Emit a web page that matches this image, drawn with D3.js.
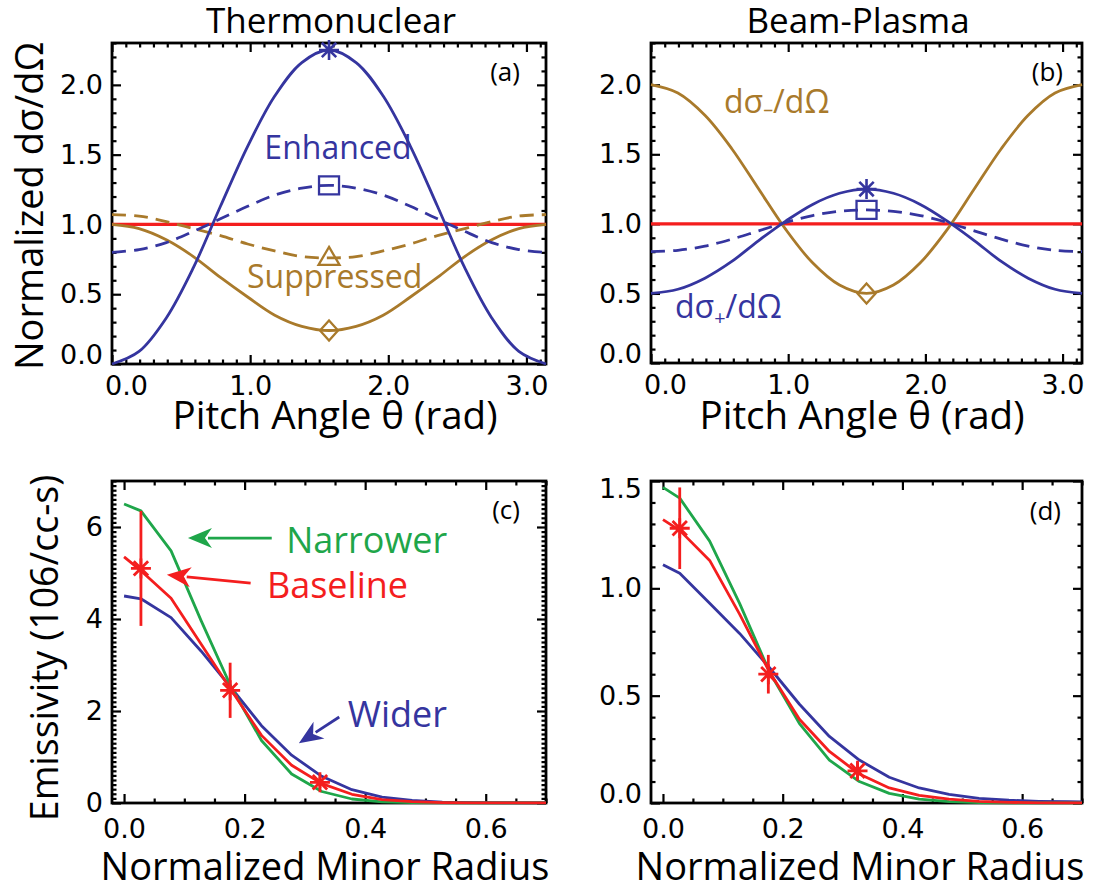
<!DOCTYPE html>
<html>
<head>
<meta charset="utf-8">
<script src="https://cdn.jsdelivr.net/npm/d3@7"></script>
<style>
  html, body { margin: 0; padding: 0; background: #ffffff; }
  svg { display: block; }
</style>
</head>
<body>
<script>
// ---------------------------------------------------------------
// Angular distributions (panels a, b)
// ---------------------------------------------------------------
const pitchAngle = [0.000, 0.196, 0.393, 0.589, 0.785, 0.982, 1.178, 1.374, 1.571,
                    1.767, 1.963, 2.160, 2.356, 2.553, 2.749, 2.945, 3.142];

// Thermonuclear: enhanced / suppressed anisotropies
const tnEnhanced      = [0.00, 0.09, 0.33, 0.69, 1.13, 1.56, 1.92, 2.16, 2.25,
                         2.16, 1.92, 1.56, 1.13, 0.69, 0.33, 0.09, 0.00];
const tnEnhancedWeak  = [0.80, 0.82, 0.87, 0.95, 1.04, 1.13, 1.21, 1.26, 1.28,
                         1.26, 1.21, 1.13, 1.04, 0.95, 0.87, 0.82, 0.80];
const tnSuppressedWeak= [1.07, 1.06, 1.02, 0.97, 0.92, 0.86, 0.81, 0.77, 0.76,
                         0.77, 0.81, 0.86, 0.92, 0.97, 1.02, 1.06, 1.07];
const tnSuppressed    = [1.00, 0.97, 0.89, 0.77, 0.62, 0.48, 0.35, 0.27, 0.24,
                         0.27, 0.35, 0.48, 0.62, 0.77, 0.89, 0.97, 1.00];

// Beam-plasma: dσ-/dΩ and dσ+/dΩ
const bpMinus         = [2.00, 1.94, 1.78, 1.54, 1.25, 0.96, 0.72, 0.56, 0.50,
                         0.56, 0.72, 0.96, 1.25, 1.54, 1.78, 1.94, 2.00];
const bpPlus          = [0.50, 0.53, 0.61, 0.73, 0.88, 1.02, 1.14, 1.22, 1.25,
                         1.22, 1.14, 1.02, 0.88, 0.73, 0.61, 0.53, 0.50];
const bpPlusWeak      = [0.80, 0.81, 0.84, 0.89, 0.95, 1.01, 1.06, 1.09, 1.10,
                         1.09, 1.06, 1.01, 0.95, 0.89, 0.84, 0.81, 0.80];

// Isotropic reference
const isoAngle = [0.000, 3.142];
const isoValue = [1.0, 1.0];

// Symbols at θ = π/2
const symbolAngle = 1.571;
const tnSymbolValues = [2.25, 1.28, 0.76, 0.24];
const tnSymbolShapes = ["asterisk", "square", "triangle", "diamond"];
const bpSymbolValues = [1.25, 1.10, 0.50];
const bpSymbolShapes = ["asterisk", "square", "diamond"];

// ---------------------------------------------------------------
// Emissivity profiles (panels c, d)
// ---------------------------------------------------------------
const minorRadius = [0.000, 0.028, 0.078, 0.128, 0.178, 0.228, 0.278, 0.328,
                     0.378, 0.428, 0.478, 0.528, 0.578, 0.628, 0.678, 0.700];

const tnNarrower = [6.50, 6.35, 5.48, 3.96, 2.51, 1.36, 0.63, 0.25, 0.087, 0.026, 0.007, 0.002, 0, 0, 0, 0];
const tnBaseline = [5.35, 5.05, 4.45, 3.45, 2.45, 1.47, 0.82, 0.42, 0.19, 0.075, 0.028, 0.009, 0.003, 0.001, 0, 0];
const tnWider    = [4.50, 4.44, 4.03, 3.30, 2.50, 1.68, 1.04, 0.58, 0.29, 0.13, 0.055, 0.020, 0.007, 0.002, 0, 0];

const bpNarrower = [1.47, 1.42, 1.22, 0.93, 0.61, 0.37, 0.20, 0.10, 0.045, 0.018, 0.006, 0.002, 0, 0, 0, 0];
const bpBaseline = [1.32, 1.27, 1.13, 0.88, 0.61, 0.39, 0.24, 0.135, 0.070, 0.036, 0.018, 0.008, 0.003, 0.001, 0, 0];
const bpWider    = [1.11, 1.07, 0.93, 0.79, 0.63, 0.46, 0.31, 0.20, 0.12, 0.070, 0.040, 0.022, 0.013, 0.008, 0.006, 0.005];

// Measured emissivity with error bars
const measRadius = [0.028, 0.176, 0.325];
const tnMeasured = [5.10, 2.45, 0.45];
const tnMeasErr  = [1.25, 0.60, 0.13];
const bpMeasured = [1.28, 0.60, 0.15];
const bpMeasErr  = [0.19, 0.09, 0.04];

// Tick labels
const angleTicks = [0, 1, 2, 3];
const dsigmaTicks = [0, 0.5, 1.0, 1.5, 2.0];
const radiusTicks = [0, 0.2, 0.4, 0.6];
const tnEmisTicks = [0, 2, 4, 6];
const bpEmisTicks = [0, 0.5, 1.0, 1.5];

// ---------------------------------------------------------------
const C = { blue: "#35359f", brown: "#a97a2b", red: "#f41e1e", green: "#1fa64a", black: "#000" };
const tickFont = "'DejaVu Sans', sans-serif";
const textFont = "'Open Sans', sans-serif";

const svg = d3.select("body").append("svg")
  .attr("width", 1093).attr("height", 892)
  .attr("viewBox", "0 0 1093 892");

let clipCount = 0;

function minorsBetween(lo, hi, step, majors) {
  return d3.range(lo, hi + step / 2, step)
    .filter(v => !majors.some(m => Math.abs(m - v) < step / 10));
}

function makePanel(box, xDom, yDom, xMaj, yMaj, xMin, yMin, xFmt, yFmt) {
  const x = d3.scaleLinear().domain(xDom).range([box.x0, box.x1]);
  const y = d3.scaleLinear().domain(yDom).range([box.y1, box.y0]);
  const g = svg.append("g");
  const axes = g.append("g");

  function addAxis(axis, tx, ty) {
    const a = axes.append("g").attr("transform", `translate(${tx},${ty})`).call(axis);
    a.select(".domain").remove();
    a.selectAll("line").attr("stroke", C.black).attr("stroke-width", 2.2);
    a.attr("font-size", null).attr("font-family", null);
    a.selectAll("text").style("font-family", tickFont).style("font-size", "27px").attr("fill", C.black);
    return a;
  }
  const bottom = addAxis(d3.axisBottom(x).tickValues(xMaj).tickSizeInner(-9).tickSizeOuter(0).tickPadding(12).tickFormat(xFmt), 0, box.y1);
  addAxis(d3.axisBottom(x).tickValues(xMin).tickSizeInner(-4.5).tickSizeOuter(0).tickFormat(""), 0, box.y1);
  addAxis(d3.axisTop(x).tickValues(xMaj).tickSizeInner(-9).tickSizeOuter(0).tickFormat(""), 0, box.y0);
  addAxis(d3.axisTop(x).tickValues(xMin).tickSizeInner(-4.5).tickSizeOuter(0).tickFormat(""), 0, box.y0);
  const left = addAxis(d3.axisLeft(y).tickValues(yMaj).tickSizeInner(-9).tickSizeOuter(0).tickPadding(9).tickFormat(yFmt), box.x0, 0);
  addAxis(d3.axisLeft(y).tickValues(yMin).tickSizeInner(-4.5).tickSizeOuter(0).tickFormat(""), box.x0, 0);
  addAxis(d3.axisRight(y).tickValues(yMaj).tickSizeInner(-9).tickSizeOuter(0).tickFormat(""), box.x1, 0);
  addAxis(d3.axisRight(y).tickValues(yMin).tickSizeInner(-4.5).tickSizeOuter(0).tickFormat(""), box.x1, 0);

  g.append("rect")
    .attr("x", box.x0).attr("y", box.y0)
    .attr("width", box.x1 - box.x0).attr("height", box.y1 - box.y0)
    .attr("fill", "none").attr("stroke", C.black).attr("stroke-width", 2.8);

  const id = "plotclip" + (++clipCount);
  svg.append("clipPath").attr("id", id).append("rect")
    .attr("x", box.x0 - 1.5).attr("y", box.y0 - 1.5)
    .attr("width", box.x1 - box.x0 + 3).attr("height", box.y1 - box.y0 + 3);
  const plot = g.append("g").attr("clip-path", `url(#${id})`);
  const marks = g.append("g");
  return { x, y, g, plot, marks, bottom, left, box };
}

function drawCurve(p, xs, ys, color, dashed, curve, width) {
  const line = d3.line().x(d => p.x(d[0])).y(d => p.y(d[1])).curve(curve || d3.curveLinear);
  p.plot.append("path")
    .datum(xs.map((v, i) => [v, ys[i]]))
    .attr("d", line)
    .attr("fill", "none")
    .attr("stroke", color)
    .attr("stroke-width", width || 2.8)
    .attr("stroke-linejoin", "round")
    .attr("stroke-dasharray", dashed ? "14,8" : null);
}

function symbolPath(shape) {
  if (shape === "asterisk") {
    const s = 10, d = s * 0.72;
    return `M${-s},0H${s}M0,${-s}V${s}M${-d},${-d}L${d},${d}M${-d},${d}L${d},${-d}`;
  }
  if (shape === "square") return "M-10,-9H10V9H-10Z";
  if (shape === "triangle") return "M0,-11L10.5,7H-10.5Z";
  if (shape === "diamond") return "M0,-10L9,0L0,10L-9,0Z";
  return "";
}

function drawSymbols(p, xv, values, shapes, colors) {
  values.forEach((v, i) => {
    p.marks.append("path")
      .attr("transform", `translate(${p.x(xv)},${p.y(v)})`)
      .attr("d", symbolPath(shapes[i]))
      .attr("fill", "none")
      .attr("stroke", colors[i])
      .attr("stroke-width", shapes[i] === "asterisk" ? 2.6 : 2.3);
  });
}

function drawMeasured(p, xs, ys, errs, color) {
  xs.forEach((r, i) => {
    p.marks.append("line")
      .attr("x1", p.x(r)).attr("x2", p.x(r))
      .attr("y1", p.y(ys[i] - errs[i])).attr("y2", p.y(ys[i] + errs[i]))
      .attr("stroke", color).attr("stroke-width", 2.8);
    const s = 10, d = s * 0.72;
    p.marks.append("path")
      .attr("transform", `translate(${p.x(r)},${p.y(ys[i])})`)
      .attr("d", `M${-s},0H${s}M0,${-s}V${s}M${-d},${-d}L${d},${d}M${-d},${d}L${d},${-d}`)
      .attr("stroke", color).attr("stroke-width", 2.8).attr("fill", "none");
  });
}

function label(parent, x, y, str, opts) {
  const t = parent.append("text")
    .attr("x", x).attr("y", y)
    .attr("text-anchor", opts.anchor || "middle")
    .style("font-family", opts.font || textFont)
    .style("font-size", opts.size + "px")
    .attr("fill", opts.color || C.black)
    .text(str);
  if (opts.rotate) t.attr("transform", `rotate(-90,${x},${y})`);
  return t;
}

function subscriptLabel(parent, x, y, pre, sub, post, opts) {
  const t = parent.append("text")
    .attr("x", x).attr("y", y)
    .attr("text-anchor", "start")
    .style("font-family", textFont)
    .style("font-size", opts.size + "px")
    .attr("fill", opts.color);
  t.append("tspan").text(pre);
  t.append("tspan").attr("dy", opts.subShift).style("font-size", (opts.size * 0.62) + "px").text(sub);
  t.append("tspan").attr("dy", -opts.subShift).text(post);
  return t;
}

function arrow(p, tail, tip, color) {
  const x1 = p.x(tail[0]), y1 = p.y(tail[1]);
  const x2 = p.x(tip[0]), y2 = p.y(tip[1]);
  const ang = Math.atan2(y2 - y1, x2 - x1);
  const L = 24, Wd = 10;
  const bx = x2 - L * Math.cos(ang), by = y2 - L * Math.sin(ang);
  p.marks.append("line")
    .attr("x1", x1).attr("y1", y1).attr("x2", bx + 4 * Math.cos(ang)).attr("y2", by + 4 * Math.sin(ang))
    .attr("stroke", color).attr("stroke-width", 2.8);
  const nx = -Math.sin(ang), ny = Math.cos(ang);
  const back = 7;
  p.marks.append("path")
    .attr("d", `M${x2},${y2}L${bx + Wd * nx},${by + Wd * ny}L${bx + back * Math.cos(ang)},${by + back * Math.sin(ang)}L${bx - Wd * nx},${by - Wd * ny}Z`)
    .attr("fill", color);
}

const fmt1 = d3.format(".1f");
const fmt0 = d3.format("d");

// ------------------------- Panel (a) ---------------------------
const pa = makePanel({ x0: 112, x1: 546, y0: 43, y1: 364 }, [0, Math.PI], [0, 2.3],
  angleTicks, dsigmaTicks,
  minorsBetween(0, 3.1, 0.1, angleTicks), minorsBetween(0, 2.3, 0.1, dsigmaTicks), fmt1, fmt1);
const smooth = d3.curveCatmullRom.alpha(0.5);
drawCurve(pa, isoAngle, isoValue, C.red, false, d3.curveLinear, 3.2);
drawCurve(pa, pitchAngle, tnSuppressedWeak, C.brown, true, smooth);
drawCurve(pa, pitchAngle, tnSuppressed, C.brown, false, smooth);
drawCurve(pa, pitchAngle, tnEnhancedWeak, C.blue, true, smooth);
drawCurve(pa, pitchAngle, tnEnhanced, C.blue, false, smooth);
drawSymbols(pa, symbolAngle, tnSymbolValues, tnSymbolShapes, [C.blue, C.blue, C.brown, C.brown]);
label(pa.marks, pa.x(1.636), pa.y(1.469), "Enhanced", { size: 32, color: C.blue });
label(pa.marks, pa.x(1.612), pa.y(0.545), "Suppressed", { size: 32, color: C.brown });
label(pa.marks, 520, 81, "(a)", { size: 26, anchor: "end" });

// ------------------------- Panel (b) ---------------------------
const pb = makePanel({ x0: 651, x1: 1082, y0: 43, y1: 363 }, [0, Math.PI], [0, 2.3],
  angleTicks, dsigmaTicks,
  minorsBetween(0, 3.1, 0.1, angleTicks), minorsBetween(0, 2.3, 0.1, dsigmaTicks), fmt1, fmt1);
drawCurve(pb, isoAngle, isoValue, C.red, false, d3.curveLinear, 3.2);
drawCurve(pb, pitchAngle, bpMinus, C.brown, false, smooth);
drawCurve(pb, pitchAngle, bpPlusWeak, C.blue, true, smooth);
drawCurve(pb, pitchAngle, bpPlus, C.blue, false, smooth);
drawSymbols(pb, symbolAngle, bpSymbolValues, bpSymbolShapes, [C.blue, C.blue, C.brown]);
subscriptLabel(pb.marks, pb.x(0.532), pb.y(1.80), "dσ", "–", "/dΩ", { size: 32, color: C.brown, subShift: 3 });
subscriptLabel(pb.marks, pb.x(0.175), pb.y(0.323), "dσ", "+", "/dΩ", { size: 32, color: C.blue, subShift: 7 });
label(pb.marks, 1063, 81, "(b)", { size: 26, anchor: "end" });

// ------------------------- Panel (c) ---------------------------
const pc = makePanel({ x0: 112, x1: 546, y0: 481, y1: 803 }, [-0.02, 0.70], [0, 7],
  radiusTicks, tnEmisTicks,
  minorsBetween(0, 0.70, 0.05, radiusTicks), minorsBetween(0, 7, 0.1, tnEmisTicks), fmt1, fmt0);
drawCurve(pc, minorRadius, tnWider, C.blue, false);
drawCurve(pc, minorRadius, tnNarrower, C.green, false);
drawCurve(pc, minorRadius, tnBaseline, C.red, false);
drawMeasured(pc, measRadius, tnMeasured, tnMeasErr, C.red);
label(pc.marks, pc.x(0.269), pc.y(5.43), "Narrower", { size: 36, color: C.green, anchor: "start" });
label(pc.marks, pc.x(0.237), pc.y(4.46), "Baseline", { size: 36, color: C.red, anchor: "start" });
label(pc.marks, pc.x(0.371), pc.y(1.65), "Wider", { size: 36, color: C.blue, anchor: "start" });
arrow(pc, [0.245, 5.76], [0.106, 5.76], C.green);
arrow(pc, [0.210, 4.78], [0.071, 4.96], C.red);
arrow(pc, [0.357, 1.87], [0.290, 1.30], C.blue);
label(pc.marks, 520, 519, "(c)", { size: 26, anchor: "end" });

// ------------------------- Panel (d) ---------------------------
const pd = makePanel({ x0: 651, x1: 1082, y0: 481, y1: 803 }, [-0.02, 0.70], [0, 1.5],
  radiusTicks, bpEmisTicks,
  minorsBetween(0, 0.70, 0.05, radiusTicks), minorsBetween(0, 1.5, 0.1, bpEmisTicks), fmt1, fmt1);
drawCurve(pd, minorRadius, bpWider, C.blue, false);
drawCurve(pd, minorRadius, bpNarrower, C.green, false);
drawCurve(pd, minorRadius, bpBaseline, C.red, false);
drawMeasured(pd, measRadius, bpMeasured, bpMeasErr, C.red);
label(pd.marks, 1061, 520, "(d)", { size: 26, anchor: "end" });

// Keep the end labels of the angle axes and of the normalized axes inside the frame
[pa, pb].forEach(p => {
  p.bottom.selectAll(".tick text").filter(d => d === 0).attr("dx", 14);
  p.left.selectAll(".tick text").filter(d => d === 0).attr("dy", "-0.02em");
});
pd.left.selectAll(".tick text").filter(d => d === 0).attr("dy", "-0.02em");
pd.left.selectAll(".tick text").filter(d => d === 1.5).attr("dy", "0.62em");
[pc, pd].forEach(p => p.bottom.selectAll(".tick text").attr("transform", "translate(0,4)"));

// ------------------------- Titles ------------------------------
label(svg, 331, 33, "Thermonuclear", { size: 35 });
label(svg, 858, 33, "Beam-Plasma", { size: 35 });
label(svg, 335, 429, "Pitch Angle θ (rad)", { size: 38.5 });
label(svg, 862, 429, "Pitch Angle θ (rad)", { size: 38.5 });
label(svg, 325, 880, "Normalized Minor Radius", { size: 38 });
label(svg, 860, 880, "Normalized Minor Radius", { size: 38 });
label(svg, 43, 206, "Normalized dσ/dΩ", { size: 38, rotate: true });
label(svg, 58, 648, "Emissivity (106/cc-s)", { size: 37.5, rotate: true });
</script>
</body>
</html>
